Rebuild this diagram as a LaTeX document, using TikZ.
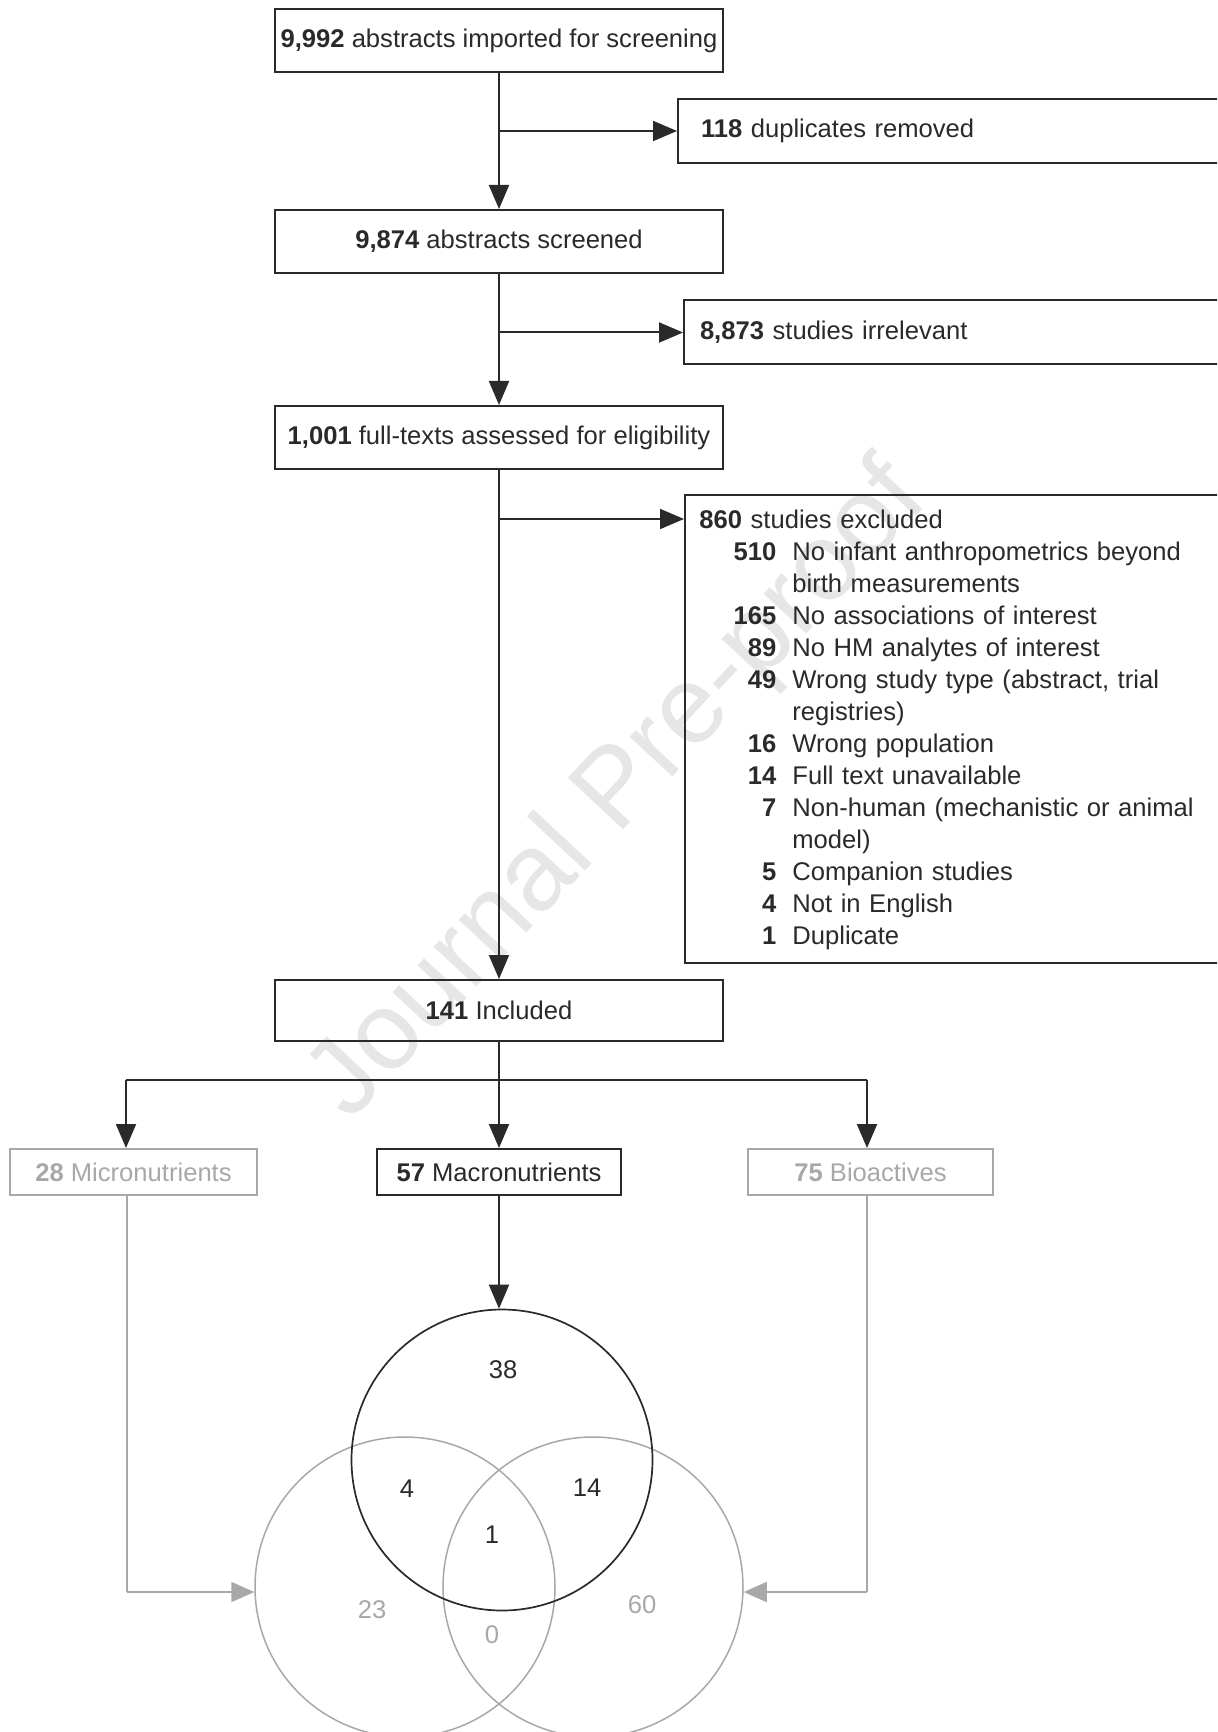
\documentclass[tikz,border=0pt]{standalone}
\usepackage{fontspec}
\setmainfont{Liberation Sans}
\usetikzlibrary{arrows.meta}
\definecolor{ink}{HTML}{2A2A2A}
\definecolor{mute}{HTML}{A8A8A8}
\definecolor{wmark}{HTML}{E6E6E6}
\newcommand{\xrow}[2]{\makebox[38.5pt][r]{\textbf{#1}}\hspace{8pt}#2}
\newcommand{\xcont}[1]{\hspace*{46.5pt}#1}
\begin{document}
\begin{tikzpicture}[x=0.5pt,y=-0.5pt,
  font=\fontsize{12.8}{16}\selectfont,
  box/.style={draw=ink, line width=1pt, text=ink, inner sep=0pt, minimum width=224pt, minimum height=31.5pt},
  sidebox/.style={draw=ink, line width=1pt, text=ink, anchor=west, align=left, inner ysep=0pt, minimum height=32pt},
  catbox/.style={line width=1pt, inner sep=0pt, minimum height=23pt},
  arr/.style={draw=ink, line width=1pt, -{Triangle[length=12pt,width=10pt]}},
  garr/.style={draw=mute, line width=0.8pt, -{Triangle[length=11.5pt,width=10pt]}},
  gline/.style={draw=mute, line width=0.8pt},
  vnum/.style={inner sep=0pt}
]
\useasboundingbox (0,0) rectangle (1217,1732);
\clip (0,0) rectangle (1217,1732);
\fill[white] (0,0) rectangle (1217,1732);

% watermark
\node[text=wmark, rotate=47, font=\fontsize{55}{60}\selectfont] (wm) at (620,792) {Journal Pre-proof};

% main column
\node[box] (n1) at (499,40.5) {\textbf{9,992} abstracts imported for screening};
\node[box] (n2) at (499,241.5) {\textbf{9,874} abstracts screened};
\node[box] (n3) at (499,437.5) {\textbf{1,001} full-texts assessed for eligibility};
\node[box, minimum height=30.5pt] (n4) at (499,1010.5) {\textbf{141} Included};

% side boxes
\node[sidebox, inner xsep=11.5pt, text width=251pt] (d118) at (677,131) {\textbf{118} duplicates removed};
\node[sidebox, inner xsep=8pt, text width=255pt] (d8873) at (683,332.5) {\textbf{8,873} studies irrelevant};

\node[draw=ink, line width=1pt, anchor=north west, inner sep=0pt, minimum width=275pt, minimum height=234pt] (excl) at (684,494) {};
\node[anchor=north west, inner sep=0pt, text=ink, text width=260pt, align=left] (excltxt) at (699,505.6) {\strut\textbf{860} studies excluded\\
\xrow{510}{No infant anthropometrics beyond}\\
\xcont{birth measurements}\\
\xrow{165}{No associations of interest}\\
\xrow{89}{No HM analytes of interest}\\
\xrow{49}{Wrong study type (abstract, trial}\\
\xcont{registries)}\\
\xrow{16}{Wrong population}\\
\xrow{14}{Full text unavailable}\\
\xrow{7}{Non-human (mechanistic or animal}\\
\xcont{model)}\\
\xrow{5}{Companion studies}\\
\xrow{4}{Not in English}\\
\xrow{1}{Duplicate}};

% category boxes
\node[catbox, draw=mute, text=mute, minimum width=123.5pt] (micro) at (133.5,1172) {\textbf{28} Micronutrients};
\node[catbox, draw=ink, text=ink, minimum width=122pt] (macro) at (499,1172) {\textbf{57} Macronutrients};
\node[catbox, draw=mute, text=mute, minimum width=122.5pt] (bio) at (870.5,1172) {\textbf{75} Bioactives};

% Venn diagram
\node[circle, draw=mute, line width=0.75pt, minimum size=150pt, inner sep=0pt] (vl) at (405,1587) {};
\node[circle, draw=mute, line width=0.75pt, minimum size=150pt, inner sep=0pt] (vr) at (593,1587) {};
\node[circle, draw=ink, line width=0.85pt, minimum size=150.5pt, inner sep=0pt] (vm) at (502,1460) {};

\node[vnum, text=ink] (l38) at (503,1370) {38};
\node[vnum, text=ink] (l4) at (407,1489) {4};
\node[vnum, text=ink] (l14) at (587,1488) {14};
\node[vnum, text=ink] (l1) at (492,1535) {1};
\node[vnum, text=mute] (l23) at (372,1610) {23};
\node[vnum, text=mute] (l0) at (492,1635) {0};
\node[vnum, text=mute] (l60) at (642,1605) {60};

% connectors
\coordinate (b1) at (499,131);
\coordinate (b2) at (499,332.5);
\coordinate (b3) at (499,519);
\coordinate (jl) at (126,1080);
\coordinate (jr) at (867,1080);
\coordinate (gl) at (127,1592);
\coordinate (gr) at (867,1592);

\draw[arr] (n1.south) -- (n2.north);
\draw[arr] (b1) -- (d118.west);
\draw[arr] (n2.south) -- (n3.north);
\draw[arr] (b2) -- (d8873.west);
\draw[arr] (n3.south) -- (n4.north);
\draw[arr] (b3) -- (b3 -| excl.west);
\draw[arr] (n4.south) -- (macro.north);
\draw[line width=1pt, draw=ink] (jl) -- (jr);
\draw[arr] (jl) -- (jl |- micro.north);
\draw[arr] (jr) -- (jr |- bio.north);
\draw[arr] (macro.south) -- (macro.south |- vm.north);

\draw[gline] (gl |- micro.south) -- (gl);
\draw[garr] (gl) -- (vl.west |- gl);
\draw[gline] (gr |- bio.south) -- (gr);
\draw[garr] (gr) -- (vr.east |- gr);
\end{tikzpicture}
\end{document}
